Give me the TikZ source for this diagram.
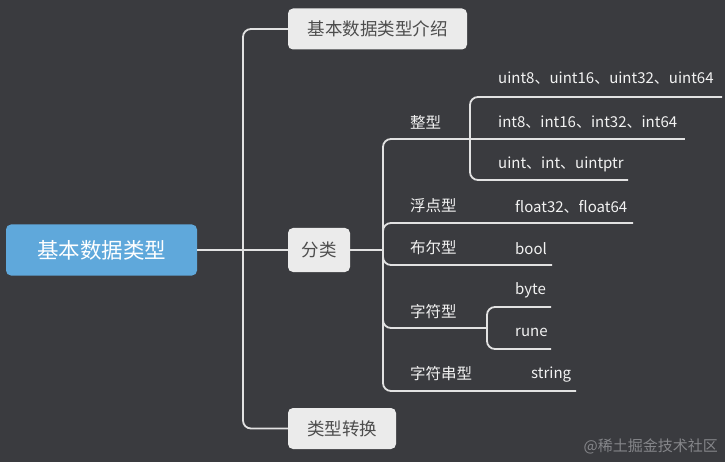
\documentclass[tikz,border=0pt]{standalone}
\usepackage{fontspec}
\setmainfont{Noto Sans CJK SC}
\definecolor{bgC}{HTML}{3A3B3F}
\definecolor{rootC}{HTML}{5FA8DB}
\definecolor{boxC}{HTML}{EBEBEB}
\definecolor{boxT}{HTML}{4D4D4D}
\definecolor{lineC}{HTML}{E2E2E2}
\definecolor{leafT}{HTML}{F2F2F2}
\definecolor{wmC}{HTML}{85868A}
\begin{document}
\begin{tikzpicture}[x=1pt,y=-1pt,
  conn/.style={draw=lineC,line width=1.8pt},
  rconn/.style={conn,rounded corners=8pt},
  rootbox/.style={fill=rootC,rounded corners=5pt,minimum width=191pt,minimum height=51pt,inner sep=0pt,text=white,font=\fontsize{21.5}{24}\selectfont},
  lvbox/.style={fill=boxC,rounded corners=5pt,minimum height=41pt,inner sep=0pt,text=boxT,font=\fontsize{17.5}{20}\selectfont},
  cat/.style={anchor=west,inner sep=0pt,text=leafT,font=\fontsize{15.5}{18}\selectfont},
  leaf/.style={anchor=west,inner sep=0pt,text=leafT,font=\fontsize{15}{18}\selectfont}]
\fill[bgC] (0,0) rectangle (725,462);
\useasboundingbox (0,0) rectangle (725,462);

% nodes
\node[rootbox] (root) at (101.5,250) {基本数据类型};
\node[lvbox,minimum width=179pt] (intro) at (377.5,29) {基本数据类型介绍};
\node[lvbox,minimum width=62pt,minimum height=44pt] (fenlei) at (319,250) {分类};
\node[lvbox,minimum width=108pt] (zh) at (342,428.5) {类型转换};

\node[cat] (zx) at (410,122) {整型};
\node[cat] (fd) at (410,206) {浮点型};
\node[cat] (be) at (410,248) {布尔型};
\node[cat] (zf) at (410,312) {字符型};
\node[cat] (zc) at (410,374) {字符串型};

\node[leaf] (l1) at (498,78.5) {uint8、uint16、uint32、uint64};
\node[leaf] (l2) at (498,122.5) {int8、int16、int32、int64};
\node[leaf] (l3) at (498,164.5) {uint、int、uintptr};
\node[leaf] (l4) at (515,206.5) {float32、float64};
\node[leaf] (l5) at (515,248.5) {bool};
\node[leaf] (l6) at (515,290.5) {byte};
\node[leaf] (l7) at (515,332.5) {rune};
\node[leaf] (l8) at (531,374.5) {string};

% junction coordinates and underline ends
\coordinate (m) at (243,250);
\coordinate (c) at (383,250);
\coordinate (s1) at (470,139);
\coordinate (s2) at (487,328);
\coordinate (e1) at (722,97);
\coordinate (e2) at (685,139);
\coordinate (e3) at (628,180);
\coordinate (e4) at (633,223);
\coordinate (e5) at (552,265);
\coordinate (e6) at (551,307);
\coordinate (e7) at (551,349);
\coordinate (e8) at (576,391);

% connectors
\draw[conn] (root.east) -- (m);
\draw[rconn] (m) |- (intro.west);
\draw[conn] (m) -- (fenlei.west);
\draw[rconn] (m) |- (zh.west);
\draw[conn] (fenlei.east) -- (c);
\draw[rconn] (c) |- (s1);
\draw[rconn] (s1) |- (e1);
\draw[conn] (s1) -- (e2);
\draw[rconn] (s1) |- (e3);
\draw[rconn] (c) |- (e4);
\draw[rconn] (c) |- (e5);
\draw[rconn] (c) |- (s2);
\draw[rconn] (s2) |- (e6);
\draw[rconn] (s2) |- (e7);
\draw[rconn] (c) |- (e8);

\node[anchor=east,inner sep=0pt,text=wmC,font=\fontsize{15}{18}\selectfont] (wm) at (718,446) {@稀土掘金技术社区};
\end{tikzpicture}
\end{document}
